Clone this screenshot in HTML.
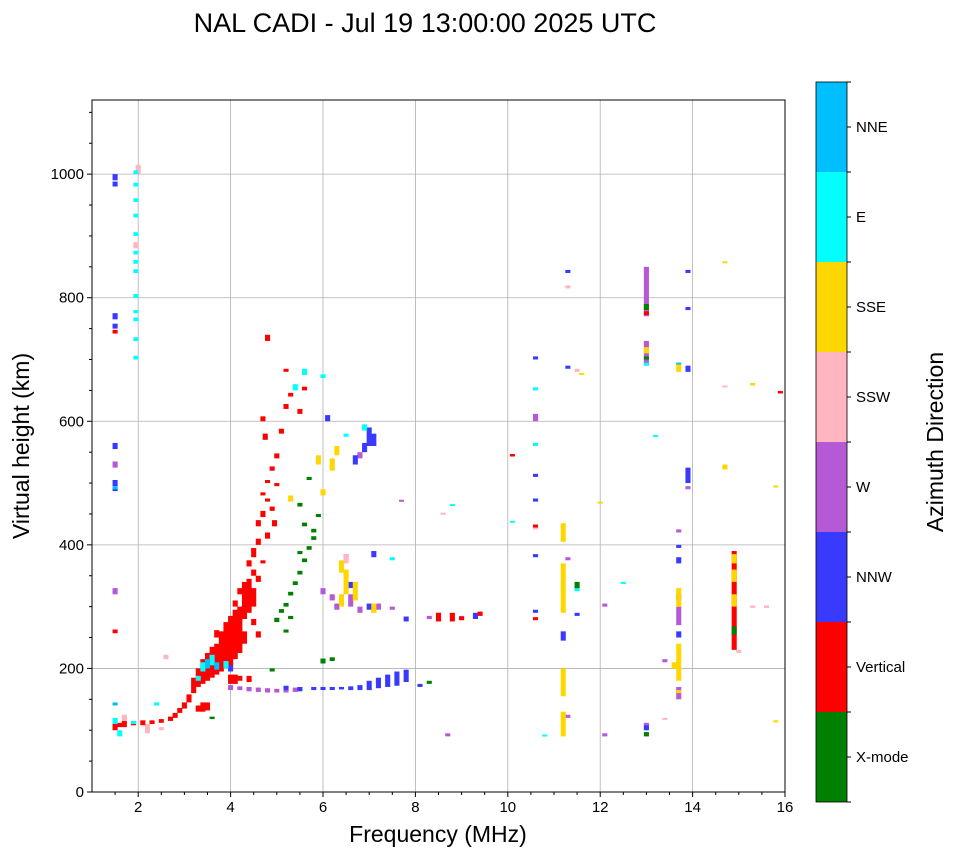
<!DOCTYPE html>
<html><head><meta charset="utf-8"><style>
html,body{margin:0;padding:0;background:#fff;}
svg{display:block;font-family:"Liberation Sans",sans-serif;}
</style></head><body>
<svg id="chart" width="958" height="857" viewBox="0 0 958 857" xmlns="http://www.w3.org/2000/svg">
<text x="425" y="32" font-size="27" text-anchor="middle">NAL CADI - Jul 19 13:00:00 2025 UTC</text>
<g id="grid"></g>
<g id="cells"></g>
<rect x="92" y="100" width="693" height="692" fill="none" stroke="#000" stroke-width="1"/>
<g id="axes"></g>
<text x="438" y="842" font-size="23" text-anchor="middle">Frequency (MHz)</text>
<text transform="translate(29,446) rotate(-90)" font-size="23" text-anchor="middle">Virtual height (km)</text>
<g id="cbar"></g>
<text transform="translate(943,442) rotate(-90)" font-size="23" text-anchor="middle">Azimuth Direction</text>
</svg>
<script>
const categories = ["X-mode","Vertical","NNW","W","SSW","SSE","E","NNE"];
const catColors = ["#008000","#ff0000","#3a3aff","#b659d6","#ffb6c1","#ffd700","#00ffff","#00bfff"];
const xTicks = [2,4,6,8,10,12,14,16];
const yTicks = [0,200,400,600,800,1000];
// each entry: [freq MHz, height low km, height high km]
const xmode = [[5.0,275,282],[5.1,290,296],[5.2,300,306],[5.3,318,324],[5.4,335,341],[5.5,352,358],[5.6,372,378],[5.7,392,398],[5.8,408,414],[5.6,430,436],[5.9,445,450],[5.5,462,468],[5.7,505,510],[6.0,208,216],[6.2,212,218],[5.5,385,390],[4.9,195,200],[13.0,90,97],[13.0,780,790],[13.0,700,705],[11.5,330,340],[14.9,255,268],[5.2,258,263],[3.6,118,122],[8.3,175,180],[5.8,420,426],[5.3,280,285]];
const vertical = [[1.5,100,112],[1.6,105,112],[1.7,105,115],[1.9,108,115],[2.1,108,116],[2.3,110,116],[2.5,112,118],[2.7,115,122],[2.8,120,128],[2.9,128,136],[3.0,135,145],[3.1,145,158],
[3.2,160,185],[3.3,170,200],[3.3,130,140],[3.4,175,215],[3.4,130,145],[3.5,180,225],[3.5,132,145],[3.6,185,235],[3.7,190,240],[3.7,250,262],[3.8,195,260],[3.9,200,275],[4.0,175,190],[4.0,205,285],[4.1,175,190],[4.1,215,295],[4.1,300,310],[4.2,180,188],[4.2,225,300],[4.2,320,330],[4.3,240,260],[4.3,280,340],[4.4,290,345],[4.4,365,375],[4.5,300,330],[4.5,350,360],[4.5,380,395],[4.6,340,350],[4.6,400,410],[4.6,430,440],[4.7,370,375],[4.7,445,455],[4.7,480,485],[4.8,410,420],[4.8,470,475],[4.8,500,505],[4.9,455,462],[4.9,520,527],[5.0,540,548],[5.0,495,500],[5.1,580,588],[5.2,620,628],[5.3,640,646],[5.2,680,685],[4.8,730,740],[4.7,600,608],[4.75,570,580],[5.5,612,620],[5.6,650,656],[4.95,430,440],[4.6,250,260],[4.5,270,280],[4.4,178,188],
[1.5,257,263],[1.5,742,748],[10.6,428,433],[10.6,278,283],[10.1,543,547],[8.5,276,290],[8.8,276,290],[9.0,278,284],[9.4,285,292],[14.9,230,390],[13.0,772,778],[15.9,645,649]];
const nnw = [[5.5,163,170],[5.8,165,170],[6.0,165,170],[6.2,165,170],[6.4,166,170],[6.6,165,171],[6.8,165,173],[7.0,165,180],[7.2,168,185],[7.4,170,190],[7.6,172,195],[7.8,178,198],[8.1,170,175],[1.5,990,1000],[1.5,980,988],[1.5,765,775],[1.5,750,758],[1.5,555,565],[1.5,495,505],[1.5,487,492],[7.0,560,590],[6.9,550,565],[7.1,560,580],[6.7,530,545],[4.0,195,210],[5.2,165,172],[6.1,600,610],[6.6,330,340],[7.1,380,390],[7.0,295,305],[7.8,276,284],[8.5,280,290],[9.3,280,290],[10.6,700,705],[10.6,510,515],[10.6,470,475],[10.6,380,385],[10.6,290,295],[11.2,245,260],[11.3,840,845],[11.3,685,690],[11.5,285,290],[13.0,100,108],[13.9,840,845],[13.9,780,785],[13.9,680,690],[13.9,500,525],[13.7,310,320],[13.7,250,260],[13.7,370,380],[13.7,395,400]];
const west = [[4.0,165,173],[4.2,165,171],[4.4,163,170],[4.6,162,169],[4.8,161,168],[5.0,161,167],[5.2,161,167],[5.4,162,169],[6.0,320,330],[6.2,310,320],[6.3,295,305],[6.6,300,320],[6.8,290,300],[7.2,295,305],[6.8,540,550],[1.5,320,330],[1.5,525,535],[13.0,770,850],[13.0,690,730],[13.0,100,112],[13.7,150,170],[13.7,270,300],[13.7,420,425],[13.9,490,495],[12.1,300,305],[12.1,90,95],[8.7,90,95],[10.6,600,612],[7.7,470,473],[6.5,375,385],[7.5,295,300],[13.4,210,215],[11.3,375,380],[11.3,120,125],[8.3,280,285],[9.0,280,285]];
const ssw = [[2.0,1000,1015],[1.95,880,890],[1.7,115,125],[2.2,95,110],[2.5,100,105],[2.6,215,222],[1.5,100,105],[6.5,370,385],[11.3,815,820],[14.7,655,658],[15.3,298,302],[15.6,298,302],[13.4,118,120],[10.6,425,430],[8.6,450,452],[11.5,680,685],[15.0,225,230]];
const sse = [[11.2,90,130],[11.2,155,200],[11.2,290,370],[11.2,405,435],[13.0,710,720],[13.0,780,790],[13.7,180,240],[13.7,300,330],[13.7,160,165],[13.7,680,692],[14.7,522,530],[14.7,856,859],[15.3,658,662],[15.8,494,496],[15.8,113,116],[6.2,520,540],[6.3,545,560],[6.5,320,360],[6.7,310,340],[6.4,355,375],[5.9,530,545],[6.0,480,490],[7.1,290,305],[5.3,470,480],[14.9,300,320],[14.9,340,360],[14.9,370,385],[12.0,468,470],[11.6,675,678],[13.6,200,210],[6.4,300,320]];
const east = [[1.95,700,706],[1.95,730,736],[1.95,762,768],[1.95,775,780],[1.95,800,806],[1.95,840,846],[1.95,855,861],[1.95,870,876],[1.95,900,906],[1.95,930,936],[1.95,955,961],[1.95,980,986],[1.95,1000,1006],[1.5,110,120],[1.6,90,100],[1.9,110,115],[2.4,140,145],[3.4,195,210],[3.6,205,222],[3.9,200,212],[3.3,180,188],[5.4,650,660],[5.6,675,685],[6.0,670,676],[6.5,575,580],[6.9,585,595],[8.8,463,466],[10.6,650,655],[10.6,560,565],[12.5,338,340],[13.2,576,578],[10.8,90,93],[10.1,436,439],[11.5,325,335],[13.0,690,695],[7.5,375,380]];
const nne = [[1.5,490,495],[1.5,140,145],[13.7,690,695],[3.5,200,215],[3.7,198,210]];

const NS="http://www.w3.org/2000/svg";
const X0=92,X1=785,Y0=792,Y1=100;
function xs(f){return X0+(f-1)/(16-1)*(X1-X0);}
function ys(h){return Y0-h/1120*(Y0-Y1);}
function mk(tag,attrs,parent){const e=document.createElementNS(NS,tag);for(const k in attrs)e.setAttribute(k,attrs[k]);parent.appendChild(e);return e;}

const grid=document.getElementById('grid'),axes=document.getElementById('axes'),cells=document.getElementById('cells'),cbar=document.getElementById('cbar');
xTicks.forEach(t=>{
  const x=xs(t);
  const gl=mk('line',{x1:x,x2:x,y1:Y1,y2:Y0,stroke:'#b0b0b0','stroke-width':0.8},grid);
  
  
  mk('line',{x1:x,x2:x,y1:Y0,y2:Y0+5,stroke:'#000'},axes);
  const tx=mk('text',{x:x,y:Y0+20,'font-size':15,'text-anchor':'middle'},axes);
  tx.textContent=t;
  
  
});
for(let f=1.5;f<16;f+=0.5){if(f%2!==0){const x=xs(f);mk('line',{x1:x,x2:x,y1:Y0,y2:Y0+3,stroke:'#000'},axes);}}
yTicks.forEach(t=>{
  const y=ys(t);
  const gl=mk('line',{x1:X0,x2:X1,y1:y,y2:y,stroke:'#b0b0b0','stroke-width':0.8},grid);
  
  
  mk('line',{x1:X0-5,x2:X0,y1:y,y2:y,stroke:'#000'},axes);
  const tx=mk('text',{x:X0-8,y:y+5,'font-size':15,'text-anchor':'end'},axes);
  tx.textContent=t;
  
  
});
for(let h=50;h<1120;h+=50){if(h%200!==0){const y=ys(h);mk('line',{x1:X0-3,x2:X0,y1:y,y2:y,stroke:'#000'},axes);}}

const series=[[west,3],[nnw,2],[ssw,4],[vertical,1],[east,6],[nne,7],[sse,5],[xmode,0]];
const W=0.11;
series.forEach(([arr,ci])=>{
  arr.forEach(([f,h0,h1])=>{
    const x=xs(f-W/2),x2=xs(f+W/2);
    const yA=ys(h1),yB=ys(h0);
    const r=mk('rect',{x:x,y:yA,width:x2-x,height:Math.max(2,yB-yA),fill:catColors[ci]},cells);
    
    
  });
});

const CX=816,CW=31,CT=82,CB=802,seg=(CB-CT)/categories.length;
categories.forEach((c,i)=>{
  const y=CB-(i+1)*seg;
  const r=mk('rect',{x:CX,y:y,width:CW,height:seg,fill:catColors[i]},cbar);
  
  
  mk('line',{x1:CX+CW,x2:CX+CW+4,y1:y+seg/2,y2:y+seg/2,stroke:'#000'},cbar);
  const t=mk('text',{x:CX+CW+9,y:y+seg/2+5,'font-size':15},cbar);
  t.textContent=c;
  
  
});
for(let i=0;i<=categories.length;i++){const y=CT+i*seg;mk('line',{x1:CX+CW,x2:CX+CW+4,y1:y,y2:y,stroke:'#000'},cbar);}
mk('rect',{x:CX,y:CT,width:CW,height:CB-CT,fill:'none',stroke:'#000','stroke-width':0.8},cbar);
</script>
</body></html>
